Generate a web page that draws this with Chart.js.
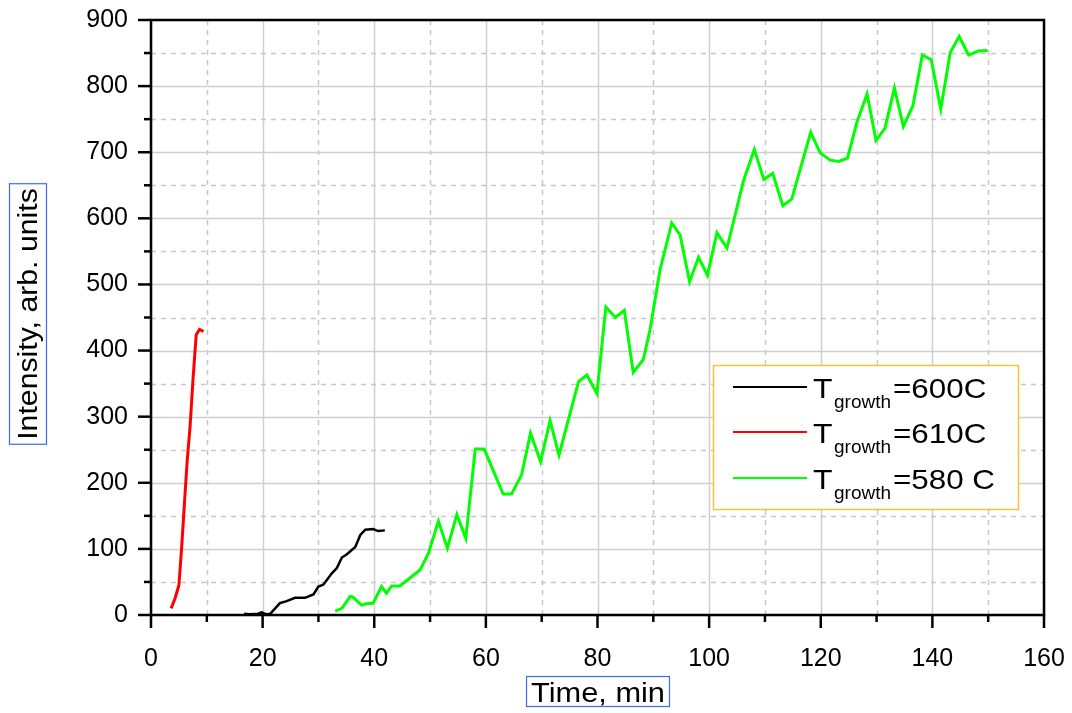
<!DOCTYPE html>
<html>
<head>
<meta charset="utf-8">
<script src="https://cdn.jsdelivr.net/npm/chart.js@4"></script>
<style>
    html, body { margin: 0; padding: 0; background: #fff; }
    #wrap { width: 1072px; height: 713px; }
</style>
</head>
<body>
<div id="wrap"><canvas id="growthChart" width="1072" height="713"></canvas></div>
<script>
// Series (time in min, intensity in arb. units)
const timeRed = [3.6, 4.3, 5.0, 5.5, 6.0, 6.5, 7.0, 7.5, 8.1, 8.7, 9.4];
const intensityRed = [10, 25, 45, 103, 170, 235, 285, 353, 424, 432, 429];

const timeBlack = [16.7, 17.7, 19.2, 19.8, 20.7, 21.4, 23.1, 24.3, 25.8, 27.6, 29.1, 30.0, 30.9,
    32.4, 33.3, 34.2, 35.1, 36.6, 37.5, 38.4, 39.8, 40.7, 41.9];
const intensityBlack = [2, 1, 2, 4, 1, 2, 18, 21, 26, 26, 31, 43, 46,
    63, 71, 87, 92, 103, 121, 129, 130, 127, 128];

const timeGreen = [33.0, 34.2, 35.7, 36.2, 37.7, 38.6, 39.8, 41.3, 42.2, 43.1, 44.6, 46.4, 48.2,
    49.7, 51.5, 53.1, 54.8, 56.4, 58.1, 59.7, 63.1, 64.6, 66.4, 68.0, 69.8, 71.5, 73.1, 76.6,
    78.1, 79.9, 81.5, 83.2, 84.8, 86.4, 88.2, 89.4, 91.2, 93.3, 94.8, 96.5, 98.1, 99.7, 101.4,
    103.2, 106.2, 108.1, 109.8, 111.4, 113.2, 114.8, 118.2, 119.9, 121.7, 123.2, 124.8, 126.5,
    128.3, 129.9, 131.5, 133.2, 134.8, 136.5, 138.2, 139.8, 141.5, 143.2, 144.8, 146.5, 148.2, 149.9];
const intensityGreen = [6, 10, 28, 27, 15, 17, 18, 43, 33, 44, 44, 56, 68,
    93, 142, 101, 152, 116, 251, 251, 183, 183, 212, 275, 232, 294, 242, 353,
    363, 335, 466, 450, 461, 367, 386, 431, 522, 593, 575, 504, 541, 514, 578,
    555, 658, 704, 659, 668, 619, 629, 730, 699, 688, 686, 691, 746,
    788, 718, 736, 797, 739, 770, 847, 840, 765, 851, 875, 847, 853, 854];

const seriesLabels = ['600C', '610C', '580 C'];
const seriesColors = ['#000000', '#ff0000', '#00ff00'];

const xTicksMajor = [0, 20, 40, 60, 80, 100, 120, 140, 160];
const yTicksMajor = [0, 100, 200, 300, 400, 500, 600, 700, 800, 900];

const FONT = '"Liberation Sans", Arial, sans-serif';

function toPoints(xs, ys) {
    return xs.map((x, i) => ({ x: x, y: ys[i] }));
}

// Draw text slightly widened, like the original export
function wideText(ctx, text, x, y, stretch) {
    ctx.save();
    ctx.translate(x, y);
    ctx.scale(stretch, 1);
    ctx.fillText(text, 0, 0);
    ctx.restore();
}

function wideWidth(ctx, text, stretch) {
    return ctx.measureText(text).width * stretch;
}

// Grid: solid at labelled ticks, dashed in between
const gridPlugin = {
    id: 'originGrid',
    beforeDatasetsDraw(chart) {
        const { ctx, chartArea: a, scales } = chart;
        ctx.save();
        ctx.lineWidth = 1.5;
        scales.x.ticks.forEach(t => {
            const px = Math.round(scales.x.getPixelForValue(t.value)) + 0.5;
            const major = xTicksMajor.includes(t.value);
            ctx.strokeStyle = major ? '#cfcfcf' : '#c8c8c8';
            ctx.setLineDash(major ? [] : [5, 5]);
            ctx.beginPath();
            ctx.moveTo(px, a.top);
            ctx.lineTo(px, a.bottom);
            ctx.stroke();
        });
        scales.y.ticks.forEach(t => {
            const py = Math.round(scales.y.getPixelForValue(t.value)) + 0.5;
            const major = yTicksMajor.includes(t.value);
            ctx.strokeStyle = major ? '#cfcfcf' : '#c8c8c8';
            ctx.setLineDash(major ? [] : [5, 5]);
            ctx.beginPath();
            ctx.moveTo(a.left, py);
            ctx.lineTo(a.right, py);
            ctx.stroke();
        });
        ctx.restore();
    },
    afterDraw(chart) {
        const { ctx, chartArea: a, scales } = chart;
        ctx.save();
        ctx.setLineDash([]);
        ctx.strokeStyle = '#000';
        ctx.lineWidth = 2.5;
        ctx.strokeRect(a.left, a.top, a.right - a.left, a.bottom - a.top);

        // tick marks, outwards
        scales.x.ticks.forEach(t => {
            const px = scales.x.getPixelForValue(t.value);
            const len = xTicksMajor.includes(t.value) ? 13 : 7;
            ctx.beginPath();
            ctx.moveTo(px, a.bottom);
            ctx.lineTo(px, a.bottom + len);
            ctx.stroke();
        });
        scales.y.ticks.forEach(t => {
            const py = scales.y.getPixelForValue(t.value);
            const len = yTicksMajor.includes(t.value) ? 13 : 7;
            ctx.beginPath();
            ctx.moveTo(a.left, py);
            ctx.lineTo(a.left - len, py);
            ctx.stroke();
        });

        // axis titles in blue boxes
        ctx.fillStyle = '#000';
        ctx.textBaseline = 'alphabetic';
        ctx.font = '27px ' + FONT;
        const xTitle = 'Time, min';
        const xw = wideWidth(ctx, xTitle, 1.14);
        const xc = 598;
        wideText(ctx, xTitle, xc - xw / 2, 702, 1.14);
        ctx.strokeStyle = '#3b6cf0';
        ctx.lineWidth = 1.2;
        ctx.strokeRect(xc - xw / 2 - 4.5, 676.5, xw + 9, 30);

        const yTitle = 'Intensity, arb. units';
        const yw = wideWidth(ctx, yTitle, 1.12);
        const yc = 314;
        ctx.save();
        ctx.translate(37, yc);
        ctx.rotate(-Math.PI / 2);
        wideText(ctx, yTitle, -yw / 2, 0, 1.12);
        ctx.restore();
        ctx.strokeRect(9.5, yc - yw / 2 - 4.5, 37, yw + 9);

        // legend box
        const lx = 713, ly = 365, lw = 305, lh = 144;
        ctx.fillStyle = '#fff';
        ctx.fillRect(lx, ly, lw, lh);
        ctx.strokeStyle = '#f5c33b';
        ctx.lineWidth = 1.5;
        ctx.strokeRect(lx + 0.5, ly + 0.5, lw, lh);

        const rowY = [387, 432, 478];
        chart.data.datasets.forEach((ds, i) => {
            const y = rowY[i];
            ctx.strokeStyle = ds.borderColor;
            ctx.lineWidth = 2;
            ctx.beginPath();
            ctx.moveTo(733, y);
            ctx.lineTo(807, y);
            ctx.stroke();

            ctx.fillStyle = '#000';
            ctx.font = '28px ' + FONT;
            wideText(ctx, 'T', 813, y + 11, 1.14);
            ctx.font = '19px ' + FONT;
            wideText(ctx, 'growth', 834, y + 21, 1.0);
            ctx.font = '28px ' + FONT;
            wideText(ctx, '=' + seriesLabels[i], 893, y + 11, 1.12);
        });
        ctx.restore();
    }
};

const lineDataset = (label, xs, ys, color, width) => ({
    label: label,
    data: toPoints(xs, ys),
    borderColor: color,
    backgroundColor: color,
    borderWidth: width,
    pointRadius: 0,
    showLine: true,
    tension: 0,
    fill: false
});

document.addEventListener('DOMContentLoaded', () => {
    const canvas = document.getElementById('growthChart');

    new Chart(canvas, {
        type: 'scatter',
        data: {
            datasets: [
                lineDataset('Tgrowth=' + seriesLabels[0], timeBlack, intensityBlack, seriesColors[0], 2.5),
                lineDataset('Tgrowth=' + seriesLabels[1], timeRed, intensityRed, seriesColors[1], 3),
                lineDataset('Tgrowth=' + seriesLabels[2], timeGreen, intensityGreen, seriesColors[2], 3)
            ]
        },
        options: {
            responsive: false,
            animation: false,
            devicePixelRatio: 1,
            layout: { padding: { top: 20, right: 28, left: 0, bottom: 0 } },
            plugins: {
                legend: { display: false },
                tooltip: { enabled: false }
            },
            scales: {
                x: {
                    type: 'linear',
                    min: 0,
                    max: 160,
                    grid: { display: false },
                    border: { display: false },
                    ticks: {
                        stepSize: 10,
                        autoSkip: false,
                        maxRotation: 0,
                        padding: 21,
                        color: '#000',
                        font: { family: FONT, size: 25 },
                        callback: v => (xTicksMajor.includes(v) ? String(v) : '')
                    },
                    afterFit: scale => {
                        scale.height = 98;
                        scale.paddingLeft = 0;
                        scale.paddingRight = 0;
                    }
                },
                y: {
                    type: 'linear',
                    min: 0,
                    max: 900,
                    grid: { display: false },
                    border: { display: false },
                    ticks: {
                        stepSize: 50,
                        autoSkip: false,
                        padding: 15,
                        color: '#000',
                        font: { family: FONT, size: 25 },
                        callback: v => (yTicksMajor.includes(v) ? String(v) : '')
                    },
                    afterFit: scale => {
                        scale.width = 151;
                        scale.paddingTop = 0;
                        scale.paddingBottom = 0;
                    }
                }
            }
        },
        plugins: [gridPlugin]
    });
});
</script>
</body>
</html>
